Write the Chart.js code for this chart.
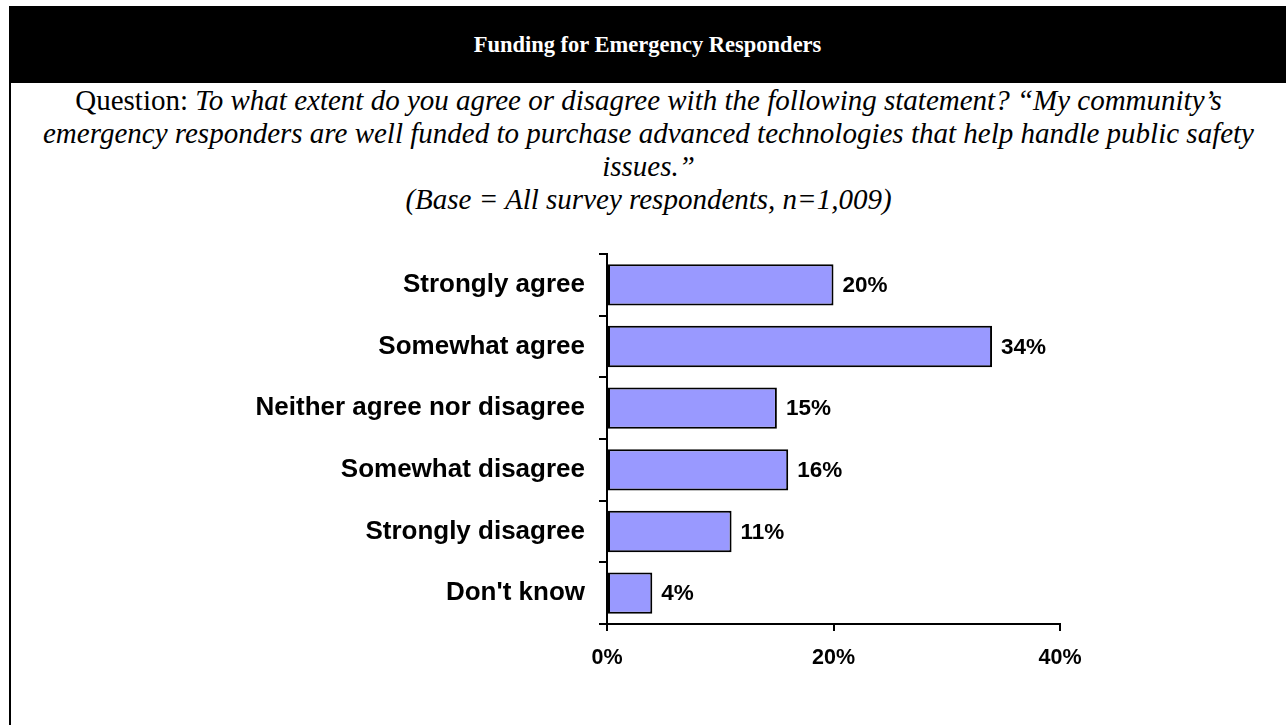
<!DOCTYPE html>
<html>
<head>
<meta charset="utf-8">
<script src="https://cdn.jsdelivr.net/npm/chart.js@4.4.1/dist/chart.umd.min.js"></script>
<style>
  html, body { margin: 0; padding: 0; background: #fff; }
  body { width: 1286px; height: 725px; position: relative; overflow: hidden; }
  .header {
    position: absolute; left: 9px; top: 6px; width: 1277px; height: 77px;
    background: #000; color: #fff;
    font: bold 22.5px "Liberation Serif", "Times New Roman", serif;
    display: flex; align-items: center; justify-content: center;
  }
  .frame { position: absolute; left: 9px; top: 83px; width: 2px; height: 642px; background: #000; }
  .question {
    position: absolute; left: 11px; top: 84px; width: 1275px;
    text-align: center; color: #000; white-space: nowrap;
    font: 29px/33px "Liberation Serif", "Times New Roman", serif;
  }
  .question i { font-style: italic; }
  #chart { position: absolute; left: 0; top: 0; }
</style>
</head>
<body>
<div class="header">Funding for Emergency Responders</div>
<div class="frame"></div>
<div class="question">
  Question: <i>To what extent do you agree or disagree with the following statement? “My community’s</i><br>
  <i>emergency responders are well funded to purchase advanced technologies that help handle public safety</i><br>
  <i>issues.”</i><br>
  <i>(Base = All survey respondents, n=1,009)</i>
</div>
<canvas id="chart" width="1286" height="725"></canvas>
<script>
const categories = [
  "Strongly agree",
  "Somewhat agree",
  "Neither agree nor disagree",
  "Somewhat disagree",
  "Strongly disagree",
  "Don't know"
];
const shares = [20, 34, 15, 16, 11, 4];
const axisTicks = [0, 20, 40];

// writes "NN%" just past the end of each bar
const valueLabels = {
  id: "valueLabels",
  afterDatasetsDraw(chart) {
    const ctx = chart.ctx;
    const meta = chart.getDatasetMeta(0);
    ctx.save();
    ctx.font = "bold 22.5px 'Liberation Sans', Arial, sans-serif";
    ctx.fillStyle = "#000";
    ctx.textAlign = "left";
    ctx.textBaseline = "middle";
    meta.data.forEach((bar, i) => {
      ctx.fillText(shares[i] + "%", bar.x + 9, bar.y + 1);
    });
    ctx.restore();
  }
};

new Chart(document.getElementById("chart"), {
  type: "bar",
  data: {
    labels: categories,
    datasets: [{
      data: shares,
      backgroundColor: "#9999FF",
      borderColor: "#000",
      borderWidth: 2,
      borderSkipped: false,
      categoryPercentage: 0.67,
      barPercentage: 1
    }]
  },
  options: {
    indexAxis: "y",
    responsive: false,
    animation: false,
    events: [],
    layout: { padding: { left: 0, top: 254, right: 226, bottom: 0 } },
    plugins: { legend: { display: false }, tooltip: { enabled: false } },
    scales: {
      x: {
        min: 0,
        max: 40,
        afterFit(scale) { scale.height = 101; },
        afterBuildTicks(scale) { scale.ticks = axisTicks.map(v => ({ value: v })); },
        border: { color: "#000", width: 2 },
        grid: { drawOnChartArea: false, drawTicks: true, tickLength: 7, color: "#000", lineWidth: 2 },
        ticks: {
          padding: 14,
          color: "#000",
          font: { family: "'Liberation Sans', Arial, sans-serif", size: 21.5, weight: "bold" },
          callback: v => v + "%"
        }
      },
      y: {
        afterFit(scale) { scale.width = 607; },
        border: { color: "#000", width: 2 },
        grid: { drawOnChartArea: false, drawTicks: true, tickLength: 8, color: "#000", lineWidth: 2, offset: true },
        ticks: {
          padding: 14,
          color: "#000",
          font: { family: "'Liberation Sans', Arial, sans-serif", size: 26, weight: "bold" }
        }
      }
    }
  },
  plugins: [valueLabels]
});
</script>
</body>
</html>
